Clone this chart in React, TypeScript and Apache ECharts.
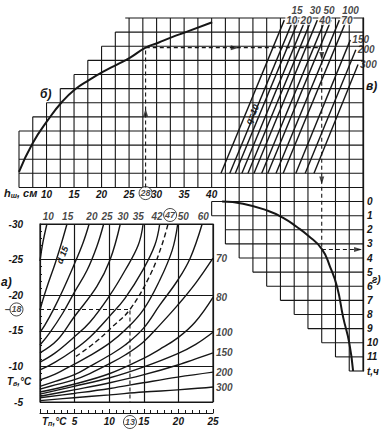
import React, { useEffect, useRef } from 'react';
import * as echarts from 'echarts';

const FONT = "'Liberation Sans Narrow','Liberation Sans',Arial,sans-serif";
const INK = '#161616';

// ---------- б) depth curve (x: h_ш, cm ; y: shared row scale, hours-aligned) ----------
const hTickLabels = [10, 15, 20, 25, 30, 35, 40];
const curveB = [[5, -2.1], [7.5, -4.15], [10.3, -5.8], [12.8, -7.05], [15.2, -7.95], [17.7, -8.6], [20.3, -9.2], [22.8, -9.7], [25.2, -10.2], [28, -10.9], [30.3, -11.25], [32.8, -11.65], [35.3, -12.0], [40.1, -12.7]];

// ---------- г) time curve ----------
const hourLabels = [0, 1, 2, 3, 4, 5, 6, 7, 8, 9, 10, 11];
const curveG = [[41.9, 0], [45.7, 0.15], [50.2, 0.65], [53, 1.15], [55.5, 1.8], [57.5, 2.4], [60, 3.35], [61.5, 4.6], [62.8, 6.05], [63.9, 8.2], [65, 10], [65.7, 12]];

// ---------- в) parallel lines ----------
const vParams = ['10', '15', '20', '', '30', '40', '50', '', '70', '100', '150', '200', '300'];
const vBottomH = [41.7, 43.3, 44.3, 45.5, 46.6, 47.7, 49.1, 50.2, 51.7, 53.0, 55.3, 57.0, 58.6];
const vTopH = [53.2, 54.8, 55.8, 57.0, 58.1, 59.2, 60.6, 61.7, 63.2, 64.5, 65.2, 66.2, 66.6];
const vTopT = [-12.85, -12.85, -12.85, -12.85, -12.85, -12.85, -12.85, -12.85, -12.85, -12.85, -11.45, -10.75, -9.7];
const vBottomT = -2;

// ---------- staircase grid structure ----------
const colH = [5, 7.5, 10, 12.5, 15, 17.5, 20, 22.5, 25, 27.5, 30, 32.5, 35, 37.5, 40, 42.5, 45, 47.5, 50, 52.5, 55, 57.5, 60, 62.5, 65, 67.5];
const colTop = [-5, -6, -7, -8, -9, -10, -11, -12, -13, -13, -13, -13, -13, -13, -13, -13, -13, -13, -13, -13, -13, -13, -13, -13, -13, -13];
const colBottom = [-1, -1, -1, -1, -1, -1, -1, -1, -1, -1, -1, -1, -1, -1, -1, 3, 4, 5, 6, 7, 8, 9, 10, 11, 12, 12];
const rowT = [-13, -12, -11, -10, -9, -8, -7, -6, -5, -4, -3, -2, -1, 0, 1, 2, 3, 4, 5, 6, 7, 8, 9, 10, 11, 12];
const rowStart = [24.3, 22.5, 20, 17.5, 15, 12.5, 10, 7.5, 5, 5, 5, 5, 5, 40, 40, 42.5, 42.5, 45, 47.5, 50, 52.5, 55, 57.5, 60, 62.5, 65];
const hMax = 67.5;

// ---------- solution path ----------
const pathTop = [[28, -1], [28, -10.9], [60, -10.9], [60, 3.4], [67.3, 3.4]];
const pathA = [[0, -18], [13, -18], [13, -5]];

// ---------- а) family of curves (x: T_п, °C ; y: T_в, °C) ----------
const a10 = [[0, -24.8], [0.4, -27.3], [1.0, -30]];
const a15 = [[0, -17.9], [0.4, -19.3], [1.2, -21.7], [2.2, -24.5], [3.1, -27.3], [3.9, -30]];
const a20 = [[0, -14.8], [0.7, -15.8], [1.9, -17.9], [3.3, -20.7], [4.8, -24], [6.2, -27.3], [7.1, -30]];
const a25 = [[0, -13], [1.4, -14.7], [3.3, -17.5], [4.9, -20.3], [6.8, -23.5], [8.2, -26.8], [9.2, -30]];
const a30 = [[0, -11.9], [2.5, -13.7], [4.9, -16.9], [8.2, -21.2], [10.1, -24.9], [11.6, -30]];
const a35 = [[0, -10.6], [2.2, -11.9], [4.9, -14.1], [7.2, -16.2], [10.1, -20], [12.3, -23.5], [14.2, -27.05], [14.9, -30]];
const a42 = [[0, -9.5], [2.2, -10.6], [4.9, -12.3], [7.2, -14.1], [10.1, -17.1], [12.3, -19.6], [14.9, -23.6], [16.6, -27.05], [17.3, -30]];
const a47 = [[5.2, -11.4], [8, -13.4], [10.5, -15.6], [13, -18], [15.9, -22.8], [17.6, -27.0], [18.5, -30]];
const a50 = [[0, -8.1], [2.2, -8.9], [4.9, -10.3], [7.2, -11.5], [10.1, -13.3], [12.3, -15.1], [14.9, -17.9], [17.3, -22.1], [19.1, -26.3], [19.9, -30]];
const a60 = [[0, -7.2], [2.2, -7.9], [4.9, -8.8], [7.2, -10], [10.1, -11.6], [12.3, -13], [14.9, -15.3], [17.3, -18.6], [19.9, -22.1], [21.7, -25.2], [23.4, -29.9]];
const a70 = [[0, -6.8], [2.2, -7.4], [4.9, -8.1], [7.2, -9], [10.1, -10.4], [12.3, -11.6], [14.9, -13.4], [17.3, -15.8], [19.9, -18.6], [22.5, -21.7], [25, -25.2]];
const a80 = [[0, -6.4], [4.9, -7.5], [10.1, -9], [14.9, -11.1], [17.3, -12.4], [19.9, -14], [22.4, -16.2], [25, -19.7]];
const a100 = [[0, -6.1], [4.9, -7.2], [10.1, -8.4], [14.9, -9.9], [19.9, -11.8], [22.5, -13.1], [25, -14.8]];
const a150 = [[0, -5.8], [4.9, -6.7], [10.1, -7.7], [14.9, -8.8], [19.9, -10.2], [25, -11.9]];
const a200 = [[0, -5.6], [4.9, -6.2], [10.1, -6.9], [14.9, -7.7], [19.9, -8.5], [25, -9.2]];
const a300 = [[0, -5.2], [4.9, -5.6], [10.1, -6], [14.9, -6.4], [19.9, -6.7], [25, -7.1]];
const aCurves = [a10, a15, a20, a25, a30, a35, a42, a47, a50, a60, a70, a80, a100, a150, a200, a300];
const aTopNames = ['10', '15', '20', '25', '30', '35', '42', '47', '50', '60'];
const aTopLabelX = [1.2, 4.0, 7.5, 9.7, 12.0, 14.2, 16.9, 18.8, 20.7, 23.6];
const aRightNames = ['70', '80', '100', '150', '200', '300'];
const aRightLabelY = [-25.2, -19.7, -14.8, -11.9, -9.2, -7.1];

const txt = { fontFamily: FONT, fontStyle: 'italic', fontWeight: 'bold', fontSize: 10, color: INK };

function segSeries(name: string, data: number[][], width: number, gi: number, dash?: number[]) {
  return {
    name, type: 'custom', xAxisIndex: gi, yAxisIndex: gi, silent: true,
    data,
    renderItem: (_p: any, api: any) => {
      const a = api.coord([api.value(0), api.value(1)]);
      const b = api.coord([api.value(2), api.value(3)]);
      return { type: 'line', shape: { x1: a[0], y1: a[1], x2: b[0], y2: b[1] }, style: { stroke: INK, lineWidth: width, lineDash: dash || null } };
    },
  };
}

export default function App() {
  const ref = useRef<HTMLDivElement>(null);
  useEffect(() => {
    if (!ref.current) return;
    const chart = echarts.init(ref.current, null, { renderer: 'svg' });

    // grid segments built from the staircase arrays
    const gridSegs: number[][] = [];
    rowT.forEach((t, i) => gridSegs.push([rowStart[i], t, hMax, t]));
    colH.forEach((h, j) => {
      if (h === 60) {
        gridSegs.push([h, colTop[j], h, -10.9]);
        gridSegs.push([h, 3.4, h, colBottom[j]]);
      } else gridSegs.push([h, colTop[j], h, colBottom[j]]);
    });
    gridSegs.push([40, 0, 40, 1]);

    const vSegs = vBottomH.map((b, i) => [b, vBottomT, vTopH[i], vTopT[i]]);

    const series: any[] = [
      segSeries('grid', gridSegs, 1.1, 0),
      segSeries('в', vSegs, 1.4, 0),
      { type: 'line', name: 'б', data: curveB, smooth: true, showSymbol: false, lineStyle: { color: INK, width: 2 }, xAxisIndex: 0, yAxisIndex: 0, clip: false },
      { type: 'line', name: 'г', data: curveG, smooth: true, showSymbol: false, lineStyle: { color: INK, width: 2 }, xAxisIndex: 0, yAxisIndex: 0, clip: false },
      { type: 'line', name: 'path', data: pathTop, showSymbol: false, lineStyle: { color: INK, width: 1.1, type: [4, 3] }, xAxisIndex: 0, yAxisIndex: 0, clip: false },
      {
        type: 'scatter', name: 'arrows', xAxisIndex: 0, yAxisIndex: 0, clip: false, symbol: 'triangle', symbolSize: [5, 8], itemStyle: { color: INK },
        data: [
          { value: [28, -6.3], symbolRotate: 0 },
          { value: [44.2, -10.9], symbolRotate: -90 },
          { value: [60, -10.3], symbolRotate: 180 },
          { value: [60, -1.5], symbolRotate: 180 },
          { value: [66.6, 3.4], symbolRotate: -90 },
        ],
      },
      {
        type: 'scatter', name: 'в-labels-low', xAxisIndex: 0, yAxisIndex: 0, clip: false, symbolSize: 0,
        data: [0, 2, 5, 8].map(i => ({ value: [vTopH[i], vTopT[i]], name: vParams[i] })),
        label: { show: true, position: 'right', distance: 1, formatter: '{b}', backgroundColor: '#fff', padding: [0, 1], ...txt },
      },
      {
        type: 'scatter', name: 'в-labels-high', xAxisIndex: 0, yAxisIndex: 0, clip: false, symbolSize: 0,
        data: [1, 4, 6, 9].map(i => ({ value: [vTopH[i], vTopT[i]], name: vParams[i] })),
        label: { show: true, position: 'top', distance: 5, offset: [4, 0], formatter: '{b}', ...txt },
      },
      {
        type: 'scatter', name: 'в-labels-right', xAxisIndex: 0, yAxisIndex: 0, clip: false, symbolSize: 0,
        data: [10, 11, 12].map(i => ({ value: [vTopH[i], vTopT[i]], name: vParams[i] })),
        label: { show: true, position: 'right', distance: 2, formatter: '{b}', ...txt },
      },
      {
        type: 'scatter', name: 'circ28', xAxisIndex: 0, yAxisIndex: 0, clip: false, symbol: 'circle', symbolSize: 13,
        itemStyle: { color: '#fff', borderColor: INK, borderWidth: 1 },
        data: [[28, -0.6]], label: { show: true, position: 'inside', formatter: '28', ...txt, fontSize: 9 },
      },
    ];

    aCurves.forEach((c, i) => {
      const nm = i < 10 ? aTopNames[i] : aRightNames[i - 10];
      series.push({
        type: 'line', name: 'a' + nm, data: c, smooth: 0.4, showSymbol: false,
        lineStyle: { color: INK, width: 1.4, type: nm === '47' ? [5, 3] : 'solid' }, xAxisIndex: 1, yAxisIndex: 1,
      });
    });
    series.push(
      { type: 'line', name: 'pathA', data: pathA, showSymbol: false, lineStyle: { color: INK, width: 1.1, type: [4, 3] }, xAxisIndex: 1, yAxisIndex: 1 },
      {
        type: 'scatter', name: 'a-top', xAxisIndex: 1, yAxisIndex: 1, clip: false, symbolSize: 0,
        data: aTopNames.map((n, i) => ({ value: [aTopLabelX[i], -30], name: n === '47' ? '' : n })),
        label: { show: true, position: 'top', distance: 3, formatter: '{b}', ...txt },
      },
      {
        type: 'scatter', name: 'a-right', xAxisIndex: 1, yAxisIndex: 1, clip: false, symbolSize: 0,
        data: aRightNames.map((n, i) => ({ value: [25, aRightLabelY[i]], name: n })),
        label: { show: true, position: 'right', distance: 3, formatter: '{b}', ...txt },
      },
      {
        type: 'scatter', name: 'a-circ', xAxisIndex: 1, yAxisIndex: 1, clip: false, symbol: 'circle', symbolSize: 13,
        itemStyle: { color: '#fff', borderColor: INK, borderWidth: 1 },
        data: [
          { value: [18.8, -30], name: '47', symbolOffset: [0, -9] },
          { value: [13, -5], name: '13', symbolOffset: [0, 20] },
          { value: [-3.4, -18], name: '18' },
        ],
        label: { show: true, position: 'inside', formatter: '{b}', ...txt, fontSize: 9 },
      },
      {
        type: 'scatter', name: 'minus18', xAxisIndex: 1, yAxisIndex: 1, clip: false, symbolSize: 13,
        itemStyle: { color: 'rgba(0,0,0,0)' },
        data: [[-3.4, -18]], label: { show: true, position: 'left', distance: 0, formatter: '−', ...txt },
      },
    );

    chart.setOption({
      animation: false,
      backgroundColor: '#fff',
      grid: [
        { left: 19, top: 18, width: 344, height: 353, show: false },
        { left: 40, top: 224, width: 173, height: 178, show: true, borderColor: INK, borderWidth: 1.2, backgroundColor: 'transparent' },
        { left: 19, top: 18, width: 344, height: 169, show: false },
      ],
      xAxis: [
        { gridIndex: 0, type: 'value', min: 5, max: 67.5, show: false },
        {
          gridIndex: 1, type: 'value', min: 0, max: 25, interval: 5, position: 'bottom', offset: 11,
          axisLine: { show: true, lineStyle: { color: INK, width: 1.1 } },
          axisTick: { show: true, inside: true, length: 4, lineStyle: { color: INK } },
          minorTick: { show: true, splitNumber: 5, length: 3, lineStyle: { color: INK } },
          axisLabel: { margin: 3, formatter: (v: number) => (v === 0 ? '' : String(v)), ...txt },
          splitLine: { show: true, lineStyle: { color: INK, width: 1.2 } },
        },
        {
          gridIndex: 2, type: 'value', min: 5, max: 67.5, interval: 5, position: 'bottom',
          axisLine: { show: false }, axisTick: { show: false }, splitLine: { show: false },
          axisLabel: { margin: 2, formatter: (v: number) => (hTickLabels.includes(v) ? String(v) : ''), ...txt },
        },
      ],
      yAxis: [
        {
          gridIndex: 0, type: 'value', min: -13, max: 12, interval: 1, inverse: true, position: 'right',
          axisLine: { show: true, lineStyle: { color: INK, width: 1.3 } }, axisTick: { show: false }, splitLine: { show: false },
          axisLabel: { margin: 4, formatter: (v: number) => (hourLabels.includes(v) ? String(v) : v === 12 ? 't,ч' : ''), ...txt },
        },
        {
          gridIndex: 1, type: 'value', min: -30, max: -5, interval: 5, inverse: true, position: 'left', offset: 14,
          axisLine: { show: true, lineStyle: { color: INK, width: 1 } },
          axisTick: { show: true, inside: true, length: 4, lineStyle: { color: INK } },
          minorTick: { show: true, splitNumber: 5, length: 2, lineStyle: { color: INK } },
          axisLabel: { margin: 3, ...txt },
          splitLine: { show: true, lineStyle: { color: INK, width: 1.2 } },
        },
        { gridIndex: 2, type: 'value', min: 0, max: 1, show: false },
      ],
      graphic: [
        { type: 'text', left: 40, top: 88, style: { text: 'б)', font: `italic bold 12px ${FONT}`, fill: INK } },
        { type: 'text', left: 366, top: 80, style: { text: 'в)', font: `italic bold 12px ${FONT}`, fill: INK } },
        { type: 'text', left: 372, top: 274, style: { text: 'г)', font: `italic bold 10px ${FONT}`, fill: INK } },
        { type: 'text', left: 1, top: 276, style: { text: 'а)', font: `italic bold 12px ${FONT}`, fill: INK } },
        { type: 'text', left: 4, top: 187, style: { rich: { m: { font: `italic bold 11px ${FONT}`, fill: INK }, s: { font: `italic bold 7px ${FONT}`, fill: INK, padding: [6, 0, 0, 0] } }, text: '{m|h}{s|ш}{m|, см}' } },
        { type: 'text', left: 42, top: 416, style: { rich: { m: { font: `italic bold 10px ${FONT}`, fill: INK }, s: { font: `italic bold 7px ${FONT}`, fill: INK, padding: [5, 0, 0, 0] } }, text: '{m|T}{s|п}{m|,°C}' } },
        { type: 'text', left: 7, top: 376, style: { rich: { m: { font: `italic bold 10px ${FONT}`, fill: INK }, s: { font: `italic bold 7px ${FONT}`, fill: INK, padding: [5, 0, 0, 0] } }, text: '{m|T}{s|в}{m|,°C}' } },
        { type: 'text', left: 55, top: 245, rotation: 1.2, style: { text: 'd 15', font: `italic bold 9px ${FONT}`, fill: INK } },
        { type: 'text', left: 244, top: 103, rotation: 1.15, style: { text: 'q=10', font: `italic bold 9px ${FONT}`, fill: INK } },
      ],
      series,
    });
    return () => chart.dispose();
  }, []);
  return <div ref={ref} style={{ position: 'absolute', left: 0, top: 0, width: 383, height: 431, background: '#fff' }} />;
}
